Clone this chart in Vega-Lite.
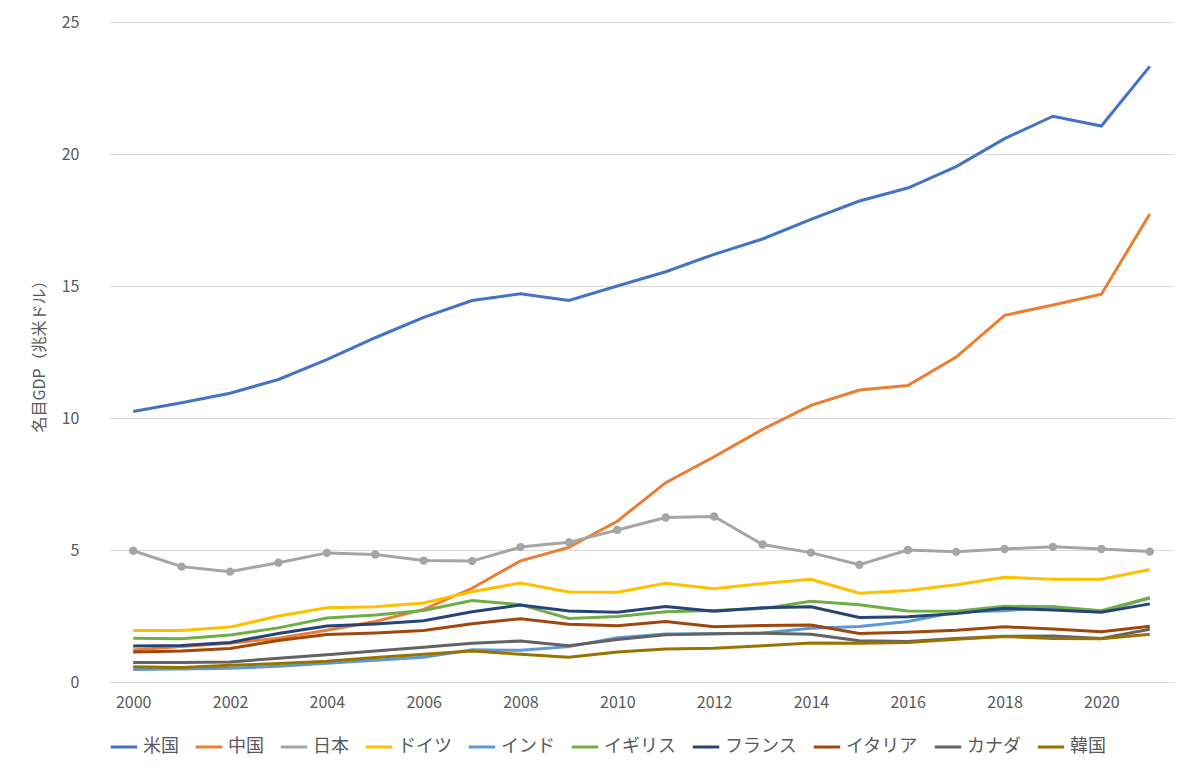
{
  "$schema": "https://vega.github.io/schema/vega-lite/v6.json",
  "width": 1065,
  "height": 660,
  "padding": {"left": 31, "top": 14, "right": 5, "bottom": 5},
  "config": {
    "font": "Noto Sans CJK JP",
    "view": {"stroke": null},
    "axis": {"labelFontSize": 16, "labelColor": "#595959", "domain": false, "ticks": false}
  },
  "data": {"values": [
    {"year": 2000, "米国": 10.25, "中国": 1.21, "日本": 4.97, "ドイツ": 1.95, "インド": 0.47, "イギリス": 1.66, "フランス": 1.36, "イタリア": 1.14, "カナダ": 0.74, "韓国": 0.58},
    {"year": 2001, "米国": 10.58, "中国": 1.34, "日本": 4.37, "ドイツ": 1.95, "インド": 0.49, "イギリス": 1.64, "フランス": 1.38, "イタリア": 1.17, "カナダ": 0.74, "韓国": 0.55},
    {"year": 2002, "米国": 10.94, "中国": 1.47, "日本": 4.18, "ドイツ": 2.08, "インド": 0.52, "イギリス": 1.78, "フランス": 1.5, "イタリア": 1.27, "カナダ": 0.76, "韓国": 0.63},
    {"year": 2003, "米国": 11.46, "中国": 1.66, "日本": 4.52, "ドイツ": 2.5, "インド": 0.6, "イギリス": 2.05, "フランス": 1.84, "イタリア": 1.57, "カナダ": 0.9, "韓国": 0.7},
    {"year": 2004, "米国": 12.21, "中国": 1.96, "日本": 4.89, "ドイツ": 2.81, "インド": 0.71, "イギリス": 2.42, "フランス": 2.12, "イタリア": 1.8, "カナダ": 1.03, "韓国": 0.79},
    {"year": 2005, "米国": 13.04, "中国": 2.29, "日本": 4.83, "ドイツ": 2.85, "インド": 0.82, "イギリス": 2.54, "フランス": 2.2, "イタリア": 1.86, "カナダ": 1.17, "韓国": 0.93},
    {"year": 2006, "米国": 13.81, "中国": 2.75, "日本": 4.6, "ドイツ": 2.99, "インド": 0.94, "イギリス": 2.71, "フランス": 2.32, "イタリア": 1.95, "カナダ": 1.32, "韓国": 1.05},
    {"year": 2007, "米国": 14.45, "中国": 3.55, "日本": 4.58, "ドイツ": 3.42, "インド": 1.22, "イギリス": 3.09, "フランス": 2.66, "イタリア": 2.21, "カナダ": 1.47, "韓国": 1.17},
    {"year": 2008, "米国": 14.71, "中国": 4.59, "日本": 5.11, "ドイツ": 3.75, "インド": 1.2, "イギリス": 2.93, "フランス": 2.92, "イタリア": 2.4, "カナダ": 1.55, "韓国": 1.05},
    {"year": 2009, "米国": 14.45, "中国": 5.1, "日本": 5.29, "ドイツ": 3.41, "インド": 1.34, "イギリス": 2.41, "フランス": 2.69, "イタリア": 2.19, "カナダ": 1.37, "韓国": 0.94},
    {"year": 2010, "米国": 15.0, "中国": 6.09, "日本": 5.76, "ドイツ": 3.4, "インド": 1.68, "イギリス": 2.48, "フランス": 2.64, "イタリア": 2.13, "カナダ": 1.61, "韓国": 1.14},
    {"year": 2011, "米国": 15.54, "中国": 7.55, "日本": 6.23, "ドイツ": 3.74, "インド": 1.82, "イギリス": 2.66, "フランス": 2.86, "イタリア": 2.29, "カナダ": 1.79, "韓国": 1.25},
    {"year": 2012, "米国": 16.2, "中国": 8.53, "日本": 6.27, "ドイツ": 3.53, "インド": 1.83, "イギリス": 2.71, "フランス": 2.68, "イタリア": 2.09, "カナダ": 1.83, "韓国": 1.28},
    {"year": 2013, "米国": 16.78, "中国": 9.57, "日本": 5.21, "ドイツ": 3.73, "インド": 1.86, "イギリス": 2.78, "フランス": 2.81, "イタリア": 2.14, "カナダ": 1.85, "韓国": 1.37},
    {"year": 2014, "米国": 17.52, "中国": 10.48, "日本": 4.9, "ドイツ": 3.89, "インド": 2.04, "イギリス": 3.06, "フランス": 2.85, "イタリア": 2.16, "カナダ": 1.81, "韓国": 1.48},
    {"year": 2015, "米国": 18.22, "中国": 11.06, "日本": 4.44, "ドイツ": 3.36, "インド": 2.1, "イギリス": 2.93, "フランス": 2.44, "イタリア": 1.84, "カナダ": 1.56, "韓国": 1.47},
    {"year": 2016, "米国": 18.71, "中国": 11.23, "日本": 5.0, "ドイツ": 3.47, "インド": 2.29, "イギリス": 2.69, "フランス": 2.47, "イタリア": 1.88, "カナダ": 1.53, "韓国": 1.5},
    {"year": 2017, "米国": 19.52, "中国": 12.31, "日本": 4.93, "ドイツ": 3.68, "インド": 2.65, "イギリス": 2.68, "フランス": 2.59, "イタリア": 1.96, "カナダ": 1.65, "韓国": 1.62},
    {"year": 2018, "米国": 20.58, "中国": 13.89, "日本": 5.04, "ドイツ": 3.97, "インド": 2.7, "イギリス": 2.87, "フランス": 2.79, "イタリア": 2.09, "カナダ": 1.73, "韓国": 1.72},
    {"year": 2019, "米国": 21.43, "中国": 14.28, "日本": 5.12, "ドイツ": 3.89, "インド": 2.84, "イギリス": 2.85, "フランス": 2.73, "イタリア": 2.01, "カナダ": 1.74, "韓国": 1.65},
    {"year": 2020, "米国": 21.06, "中国": 14.69, "日本": 5.04, "ドイツ": 3.89, "インド": 2.67, "イギリス": 2.7, "フランス": 2.64, "イタリア": 1.9, "カナダ": 1.65, "韓国": 1.64},
    {"year": 2021, "米国": 23.32, "中国": 17.73, "日本": 4.94, "ドイツ": 4.26, "インド": 3.18, "イギリス": 3.19, "フランス": 2.96, "イタリア": 2.11, "カナダ": 2.0, "韓国": 1.81}
  ]},
  "transform": [
    {"fold": ["米国", "中国", "日本", "ドイツ", "インド", "イギリス", "フランス", "イタリア", "カナダ", "韓国"], "as": ["country", "gdp"]}
  ],
  "encoding": {
    "x": {"field": "year", "type": "quantitative", "title": null,
      "scale": {"domain": [1999.5, 2021.5], "nice": false, "zero": false},
      "axis": {"values": [2000, 2002, 2004, 2006, 2008, 2010, 2012, 2014, 2016, 2018, 2020], "format": "d", "grid": false, "labelPadding": 12, "domain": true, "domainColor": "#d9d9d9"}},
    "y": {"field": "gdp", "type": "quantitative", "title": "名目GDP（兆米ドル）",
      "scale": {"domain": [0, 25]},
      "axis": {"values": [0, 5, 10, 15, 20, 25], "gridColor": "#d9d9d9", "labelPadding": 30, "titleFontSize": 16, "titleFontWeight": "normal", "titleColor": "#595959", "titlePadding": 14}},
    "color": {"field": "country", "type": "nominal", "sort": ["米国", "中国", "日本", "ドイツ", "インド", "イギリス", "フランス", "イタリア", "カナダ", "韓国"],
      "scale": {"domain": ["米国", "中国", "日本", "ドイツ", "インド", "イギリス", "フランス", "イタリア", "カナダ", "韓国"],
        "range": ["#4472C4", "#ED7D31", "#A5A5A5", "#FFC000", "#5B9BD5", "#70AD47", "#264478", "#9E480E", "#636363", "#997300"]},
      "legend": {"orient": "bottom", "direction": "horizontal", "title": null, "symbolType": "stroke", "symbolStrokeWidth": 3, "symbolSize": 700, "labelFontSize": 18, "labelColor": "#595959", "columnPadding": 10, "offset": 22}}
  },
  "layer": [
    {"mark": {"type": "line", "strokeWidth": 3}},
    {"transform": [{"filter": "datum.country === '日本'"}], "mark": {"type": "point", "filled": true, "size": 70, "opacity": 1}}
  ]
}
